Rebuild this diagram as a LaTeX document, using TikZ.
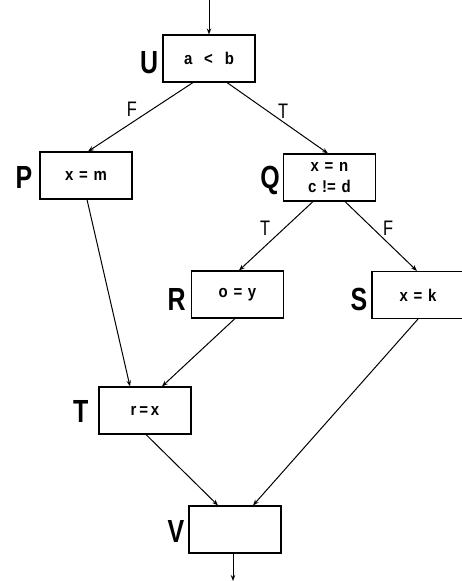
\documentclass[tikz,border=0pt]{standalone}
\usepackage{fontspec}
\setmainfont{Liberation Sans}
\newfontfamily\lblfont[FakeStretch=0.78]{Liberation Sans}
\newfontfamily\boxfont[FakeStretch=0.88]{Liberation Sans}
\usetikzlibrary{arrows.meta}
\begin{document}
\begin{tikzpicture}[x=1pt,y=-1pt,
  blk/.style={draw,line width=1.1pt,minimum width=92pt,minimum height=47pt,inner sep=0pt,
    font=\boxfont\bfseries\fontsize{17}{21}\selectfont,align=center},
  lab/.style={font=\lblfont\bfseries\fontsize{32}{32}\selectfont,inner sep=0pt,anchor=east},
  elab/.style={font=\lblfont\fontsize{21}{21}\selectfont,inner sep=0pt},
  edge/.style={line width=1pt,-{Stealth[length=6pt,width=4.5pt]}}]
\useasboundingbox (0,0) rectangle (462,581);
% boxes
\node[blk] (U) at (209,58.5) {a\hspace{0.7em}<\hspace{0.7em}b};
\node[blk] (P) at (86,175.5) {x\,\,=\,\,m};
\node[blk] (Q) at (329.5,177.5) {x\,\,=\,\,n\\c\,\,!=\,\,d};
\node[blk] (R) at (237.5,294.5) {o\,\,=\,\,y};
\node[blk] (S) at (418,295) {x\,\,=\,\,k};
\node[blk] (T) at (145,410.5) {r\,=\,x};
\node[blk] (V) at (235,529.5) {};
% letters
\node[lab] (Ul) at ([xshift=-4pt,yshift=-4pt]U.west) {U};
\node[lab] (Pl) at ([xshift=-7pt,yshift=-2pt]P.west) {P};
\node[lab] (Ql) at ([xshift=-3pt,yshift=-3pt]Q.west) {Q};
\node[lab] (Rl) at ([xshift=-5pt,yshift=-5pt]R.west) {R};
\node[lab] (Sl) at ([xshift=-4pt,yshift=-4pt]S.west) {S};
\node[lab] (Tl) at ([xshift=-10pt,yshift=-1pt]T.west) {T};
\node[lab] (Vl) at ([xshift=-4pt,yshift=-2pt]V.west) {V};
% connectors
\coordinate (in) at (209,0);
\coordinate (out) at (233,581);
\draw[edge] (in) -- (U.north);
\draw[edge] ([xshift=-16pt]U.south) -- ([xshift=2pt]P.north);
\draw[edge] ([xshift=18pt]U.south) -- ([xshift=-1.5pt]Q.north);
\draw[edge] ([xshift=1pt]P.south) -- ([xshift=-15pt]T.north);
\draw[edge] ([xshift=-16.5pt]Q.south) -- ([xshift=1.5pt]R.north);
\draw[edge] ([xshift=15.5pt]Q.south) -- ([xshift=-1pt]S.north);
\draw[edge] ([xshift=-2.5pt]R.south) -- ([xshift=17pt]T.north);
\draw[edge] (S.south) -- ([xshift=18pt]V.north);
\draw[edge] ([xshift=1pt]T.south) -- ([xshift=-17pt]V.north);
\draw[edge] ([xshift=-2pt]V.south) -- (out);
% edge labels
\node[elab] (lUP) at (132,109) {F};
\node[elab] (lUQ) at (283,111) {T};
\node[elab] (lQR) at (265,228) {T};
\node[elab] (lQS) at (388,228) {F};
\end{tikzpicture}
\end{document}
